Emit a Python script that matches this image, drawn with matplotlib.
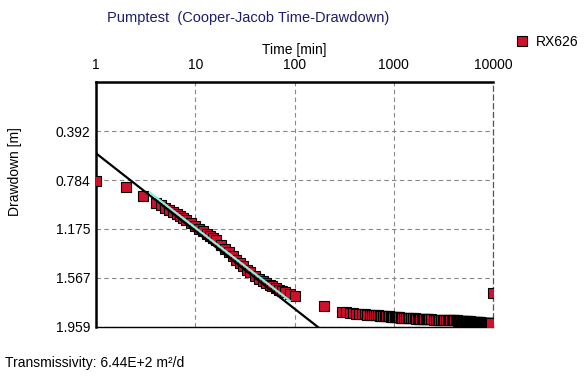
import matplotlib

matplotlib.use("Agg")
import matplotlib.pyplot as plt
from matplotlib.lines import Line2D

plt.rcParams["font.family"] = ["Liberation Sans", "DejaVu Sans"]

# observed drawdown, well RX626
time_min = [
    1, 2, 3, 4, 4.5, 5, 5.5, 6, 6.5, 7, 7.5, 8, 9, 10, 11, 12, 13, 14, 15,
    16, 18, 20, 22, 24, 26, 28, 30, 33, 36, 40, 44, 48, 52, 56, 60, 65, 70,
    75, 80, 90, 100, 200,
    300, 330, 360, 390, 420, 450, 480, 510, 540, 570,
    600, 630, 660, 690, 720, 750, 780, 810, 840, 870,
    900, 930, 960, 990, 1020, 1050, 1080, 1110, 1140, 1170,
    1200, 1260, 1320, 1380, 1440, 1500, 1560, 1620, 1680, 1740,
    1800, 1860, 1920, 1980, 2040, 2100, 2160, 2220, 2280,
    2400, 2520, 2640, 2760, 2880, 3000, 3120, 3240, 3360, 3480,
    3600, 3720, 3840, 3960, 4080, 4200, 4320, 4440, 4560, 4680,
    4800, 4920, 5040, 5160, 5280, 5400, 5520, 5640, 5760, 5880,
    6000, 6120, 6240, 6360, 6480, 6600, 6720, 6840, 6960, 7080,
    7200, 7320, 7440, 7560, 7680, 7800, 7920, 8040, 8160, 8280,
    8400, 8520, 8640, 8760, 8880, 9000, 9120, 9240, 9360, 9480,
    9600, 10000,
]
drawdown_m = [
    0.79, 0.84, 0.91, 0.965, 0.985, 1.005, 1.023, 1.04, 1.058, 1.075, 1.09,
    1.105, 1.13, 1.15, 1.173, 1.195, 1.213, 1.23, 1.248, 1.265, 1.30, 1.335,
    1.36, 1.393, 1.42, 1.445, 1.475, 1.50, 1.523, 1.55, 1.575, 1.592, 1.607,
    1.62, 1.635, 1.65, 1.665, 1.673, 1.68, 1.695, 1.71, 1.79,
    1.840, 1.843, 1.846, 1.849, 1.852, 1.854, 1.856, 1.858, 1.860, 1.862,
    1.864, 1.865, 1.866, 1.867, 1.869, 1.870, 1.871, 1.872, 1.873, 1.874,
    1.875, 1.876, 1.877, 1.878, 1.879, 1.880, 1.881, 1.882, 1.883, 1.884,
    1.885, 1.886, 1.887, 1.888, 1.889, 1.890, 1.890, 1.891, 1.892, 1.892,
    1.893, 1.894, 1.894, 1.895, 1.895, 1.896, 1.897, 1.897, 1.898,
    1.899, 1.900, 1.900, 1.901, 1.901, 1.902, 1.902, 1.903, 1.903, 1.904,
    1.904, 1.905, 1.905, 1.906, 1.906, 1.907, 1.907, 1.908, 1.908, 1.909,
    1.909, 1.910, 1.911, 1.911, 1.912, 1.913, 1.913, 1.914, 1.915, 1.915,
    1.916, 1.917, 1.917, 1.918, 1.919, 1.919, 1.920, 1.921, 1.921, 1.922,
    1.922, 1.923, 1.923, 1.924, 1.924, 1.925, 1.925, 1.926, 1.926, 1.927,
    1.927, 1.927, 1.928, 1.928, 1.928, 1.929, 1.929, 1.929, 1.930, 1.930,
    1.930, 1.69,
]

# Cooper-Jacob straight line and the fitted section
fit_time = [1, 172]
fit_drawdown = [0.57, 1.959]
fit_section_time = [3.5, 90]
fit_section_drawdown = [0.885, 1.75]

x_ticks = [1, 10, 100, 1000, 10000]
x_tick_labels = ["1", "10", "100", "1000", "10000"]
y_ticks = [0.392, 0.784, 1.175, 1.567, 1.959]
y_tick_labels = ["0.392", "0.784", "1.175", "1.567", "1.959"]

MARKER_RED = "#d0102c"
TITLE_BLUE = "#1c1c6a"
FONT_SIZE = 10


def main() -> None:
    fig = plt.figure(figsize=(5.85, 3.77), dpi=100)
    ax = fig.add_axes([96 / 585, 50 / 377, 397 / 585, 245 / 377])

    ax.plot(time_min, drawdown_m, linestyle="none", marker="s", markersize=6.5,
            markerfacecolor=MARKER_RED, markeredgecolor="black",
            markeredgewidth=0.8, zorder=3)
    ax.plot(fit_time, fit_drawdown, color="black", linewidth=1.6, zorder=4)
    ax.plot(fit_section_time, fit_section_drawdown, color="#86f0dc",
            linewidth=1.6, zorder=5)

    ax.set_xscale("log")
    ax.set_xlim(1, 10000)
    ax.set_ylim(1.959, 0)
    ax.set_xticks(x_ticks)
    ax.set_xticklabels(x_tick_labels)
    ax.minorticks_off()
    ax.set_yticks(y_ticks)
    ax.set_yticklabels(y_tick_labels)
    ax.xaxis.tick_top()
    ax.xaxis.set_label_position("top")
    ax.tick_params(length=0, labelsize=FONT_SIZE, pad=4)
    ax.tick_params(axis="x", pad=7)
    ax.set_xlabel("Time [min]", fontsize=FONT_SIZE, labelpad=3)

    ax.grid(True, linestyle=(0, (4, 3)), color="#888888", linewidth=0.8)
    ax.spines["top"].set_linewidth(1.8)
    ax.spines["left"].set_linewidth(1.8)
    ax.spines["bottom"].set_linewidth(1.0)
    ax.spines["right"].set_linestyle((0, (4, 3)))
    ax.spines["right"].set_color("#555555")
    ax.spines["right"].set_linewidth(0.9)

    fig.text(15 / 585, 1 - 172 / 377, "Drawdown [m]", rotation=90,
             ha="center", va="center", fontsize=FONT_SIZE)
    fig.text(107 / 585, 1 - 18 / 377, "Pumptest  (Cooper-Jacob Time-Drawdown)",
             ha="left", va="center", fontsize=10.5, color=TITLE_BLUE)
    fig.text(5 / 585, 1 - 363 / 377, "Transmissivity: 6.44E+2 m\u00b2/d",
             ha="left", va="center", fontsize=FONT_SIZE)

    handle = Line2D([], [], linestyle="none", marker="s", markersize=6.5,
                    markerfacecolor=MARKER_RED, markeredgecolor="black",
                    markeredgewidth=0.8)
    fig.legend([handle], ["RX626"], loc="center left",
               bbox_to_anchor=(515 / 585, 1 - 42 / 377), frameon=False,
               fontsize=FONT_SIZE, handlelength=1.0, handletextpad=0.5,
               borderpad=0, borderaxespad=0)

    fig.savefig("out.png", dpi=100)
    plt.close(fig)


if __name__ == "__main__":
    main()
